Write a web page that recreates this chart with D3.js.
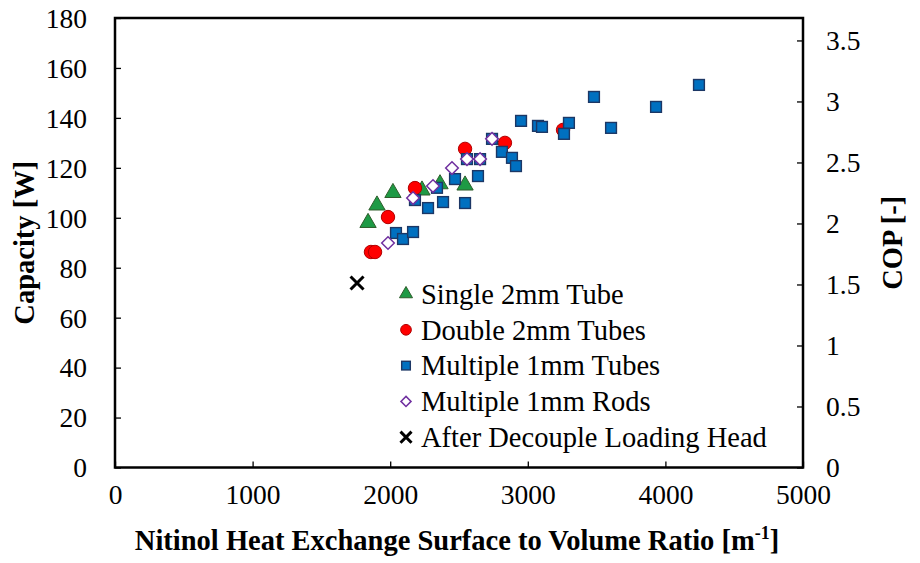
<!DOCTYPE html>
<html>
<head>
<meta charset="utf-8">
<script src="https://cdn.jsdelivr.net/npm/d3@7"></script>
<style>
  body { margin: 0; background: #fff; }
</style>
</head>
<body>
<div id="chart"></div>
<script>
// data (x = surface/volume ratio, y = capacity W)
var singleTube = [[1839, 98], [1904, 105], [2020, 110], [2231, 111], [2362, 113.5], [2544, 113]];
var doubleTubes = [[1860, 86.3], [1890, 86.3], [1984, 100.3], [2180, 111.9], [2544, 127.6], [2834, 130], [3256, 135.2]];
var multiTubes = [[2042, 93.9], [2093, 91.5], [2166, 94.3], [2180, 107.1], [2275, 103.9], [2384, 106.3], [2544, 105.9],
  [2340, 112], [2471, 115.5], [2638, 116.7], [2558, 123.5], [2653, 123.5], [2740, 131.6], [2812, 126.4],
  [2885, 124], [2914, 120.7], [2951, 138.8], [3074, 136.8], [3103, 136.4], [3299, 138], [3263, 133.6],
  [3481, 148.4], [3605, 136], [3932, 144.4], [4244, 153.2]];
var multiRods = [[1984, 89.9], [2166, 107.9], [2311, 112.7], [2449, 119.9], [2558, 123.5], [2653, 123.5], [2740, 131.6]];
var decoupled = [[1759, 73.9]];

var seriesNames = ["Single 2mm Tube", "Double 2mm Tubes", "Multiple 1mm Tubes", "Multiple 1mm Rods", "After Decouple Loading Head"];
var xTicks = [0, 1000, 2000, 3000, 4000, 5000];
var yTicks = [0, 20, 40, 60, 80, 100, 120, 140, 160, 180];
var copTicks = [0, 0.5, 1, 1.5, 2, 2.5, 3, 3.5];

var FONT = "'Liberation Serif'";

var margin = {top: 18, right: 117, bottom: 95.5, left: 115};
var W = 920, H = 563;
var width = W - margin.left - margin.right;
var height = H - margin.top - margin.bottom;

var svg = d3.select("#chart").append("svg")
    .attr("width", W)
    .attr("height", H);

var g = svg.append("g")
    .attr("transform", "translate(" + margin.left + "," + margin.top + ")");

var x = d3.scaleLinear().domain([0, 5000]).range([0, width]);
var y = d3.scaleLinear().domain([0, 180]).range([height, 0]);
var y2 = d3.scaleLinear().domain([0, 3.684]).range([height, 0]);

var plain = function(d) { return String(d); };

function styleAxis(a) {
  a.attr("font-family", null).attr("font-size", null);
  a.select(".domain").remove();
  a.selectAll("line").attr("stroke", "#000").attr("stroke-width", 1.3);
  a.selectAll("text")
    .style("font-family", FONT)
    .style("font-size", "27.5px")
    .attr("fill", "#000");
}

// axes (ticks point inward)
g.append("g")
    .attr("transform", "translate(0," + height + ")")
    .call(d3.axisBottom(x).tickValues(xTicks).tickFormat(plain).tickSizeInner(-6).tickSizeOuter(0).tickPadding(17))
    .call(styleAxis);

g.append("g")
    .call(d3.axisLeft(y).tickValues(yTicks).tickFormat(plain).tickSizeInner(-6).tickSizeOuter(0).tickPadding(28))
    .call(styleAxis)
    .selectAll("text").attr("dy", "0.34em");

g.append("g")
    .attr("transform", "translate(" + width + ",0)")
    .call(d3.axisRight(y2).tickValues(copTicks).tickFormat(plain).tickSizeInner(-6).tickSizeOuter(0).tickPadding(23))
    .call(styleAxis)
    .selectAll("text").attr("dy", "0.34em");

// frame
g.append("rect")
    .attr("width", width)
    .attr("height", height)
    .attr("fill", "none")
    .attr("stroke", "#000")
    .attr("stroke-width", 2.5);

// markers
function drawMarker(sel, kind, s) {
  if (kind === 0) {
    sel.append("path")
      .attr("d", d3.symbol().type(d3.symbolTriangle).size(115 * s * s)())
      .attr("fill", "#1e9a45").attr("stroke", "#2e5d2b").attr("stroke-width", 1);
  } else if (kind === 1) {
    sel.append("circle").attr("r", 6.7 * s)
      .attr("fill", "#ff0000").attr("stroke", "#b00000").attr("stroke-width", 1);
  } else if (kind === 2) {
    var a = 10.8 * s;
    sel.append("rect").attr("x", -a / 2).attr("y", -a / 2).attr("width", a).attr("height", a)
      .attr("fill", "#0070c0").attr("stroke", "#1c3765").attr("stroke-width", 1.4);
  } else if (kind === 3) {
    var d = 6.3 * s;
    sel.append("path")
      .attr("d", "M0," + (-d) + "L" + d + ",0L0," + d + "L" + (-d) + ",0Z")
      .attr("fill", "#fff").attr("stroke", "#7030a0").attr("stroke-width", 1.5);
  } else {
    var c = 6.5 * s;
    sel.append("path")
      .attr("d", "M" + (-c) + "," + (-c) + "L" + c + "," + c + "M" + (-c) + "," + c + "L" + c + "," + (-c))
      .attr("fill", "none").attr("stroke", "#000").attr("stroke-width", 3);
  }
}

var allSeries = [singleTube, doubleTubes, multiTubes, multiRods, decoupled];
allSeries.forEach(function(data, k) {
  g.append("g").selectAll("g")
    .data(data)
    .enter().append("g")
    .attr("transform", function(d) { return "translate(" + x(d[0]) + "," + y(d[1]) + ")"; })
    .each(function() { drawMarker(d3.select(this), k, 1); });
});

// legend
var legend = svg.append("g").attr("transform", "translate(406,294)");
seriesNames.forEach(function(name, k) {
  var row = legend.append("g").attr("transform", "translate(0," + (k * 35.8) + ")");
  drawMarker(row, k, k === 4 ? 0.85 : 0.8);
  row.append("text")
    .attr("x", 15)
    .attr("dy", "0.34em")
    .style("font-family", FONT)
    .style("font-size", "28.5px")
    .text(name);
});

// axis titles
svg.append("text")
    .attr("transform", "translate(34," + (margin.top + height / 2) + ") rotate(-90)")
    .attr("text-anchor", "middle")
    .style("font-family", FONT)
    .style("font-size", "28.5px")
    .style("font-weight", "bold")
    .text("Capacity [W]");

svg.append("text")
    .attr("transform", "translate(902," + (margin.top + height / 2) + ") rotate(-90)")
    .attr("text-anchor", "middle")
    .style("font-family", FONT)
    .style("font-size", "28.5px")
    .style("font-weight", "bold")
    .text("COP [-]");

var xt = svg.append("text")
    .attr("x", margin.left + width / 2 - 2)
    .attr("y", 550)
    .attr("text-anchor", "middle")
    .style("font-family", FONT)
    .style("font-size", "28.5px")
    .style("font-weight", "bold");
xt.append("tspan").text("Nitinol Heat Exchange Surface to Volume Ratio [m");
xt.append("tspan").attr("dy", -11).style("font-size", "18px").text("-1");
xt.append("tspan").attr("dy", 11).text("]");
</script>
</body>
</html>
